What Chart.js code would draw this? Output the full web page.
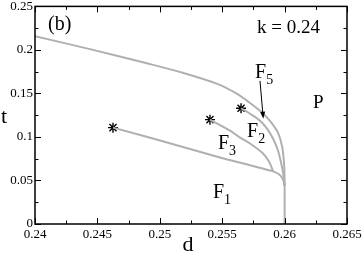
<!DOCTYPE html>
<html>
<head>
<meta charset="utf-8">
<script src="https://cdn.jsdelivr.net/npm/chart.js@4"></script>
<style>
  html, body { margin: 0; padding: 0; background: #fff; }
</style>
</head>
<body>
<canvas id="myChart" width="363" height="259"></canvas>
<script>
// phase boundaries (d, t)
// P / F5 boundary, runs into the vertical at d = 0.26
const outerD = [0.2400, 0.2444, 0.2492, 0.2519, 0.2546, 0.2562, 0.2572, 0.2583, 0.2590, 0.2595, 0.2598, 0.25995, 0.2600, 0.2600];
const outerT = [0.2158, 0.2009, 0.1838, 0.1735, 0.1610, 0.1495, 0.1393, 0.1267, 0.1153, 0.1039, 0.0890, 0.0708, 0.0502, 0.0000];
// F5 / F2 boundary
const f5f2D = [0.25651, 0.25723, 0.25803, 0.25859, 0.25907, 0.25947, 0.25971, 0.25991, 0.2600];
const f5f2T = [0.1330, 0.1267, 0.1187, 0.1096, 0.0982, 0.0845, 0.0708, 0.0559, 0.0445];
// F2 / F3 boundary
const f2f3D = [0.25402, 0.25563, 0.25643, 0.25723, 0.25827, 0.25875, 0.25899, 0.25907];
const f2f3T = [0.1199, 0.1073, 0.0993, 0.0925, 0.0811, 0.0719, 0.0639, 0.0605];
// F3 / F1 boundary
const f3f1D = [0.24625, 0.25002, 0.25482, 0.25723, 0.25907, 0.25955, 0.25987, 0.2600];
const f3f1T = [0.1107, 0.0959, 0.0765, 0.0674, 0.0605, 0.0571, 0.0514, 0.0434];
// end points (stars)
const starD = [0.24625, 0.25402, 0.25651];
const starT = [0.1107, 0.1199, 0.1330];

const xTicks = [0.24, 0.245, 0.25, 0.255, 0.26, 0.265];
const yTicks = [0, 0.05, 0.1, 0.15, 0.2, 0.25];

// text on the plot, placed in data coordinates
const labels = [
  { text: '(b)', d: 0.24104, t: 0.2226, size: 20 },
  { text: 'k = 0.24', d: 0.25779, t: 0.2192, size: 19 },
  { text: 'F', sub: '5', d: 0.25763, t: 0.1678, size: 20 },
  { text: 'F', sub: '2', d: 0.25699, t: 0.0999, size: 20 },
  { text: 'F', sub: '3', d: 0.25466, t: 0.0856, size: 20 },
  { text: 'F', sub: '1', d: 0.25426, t: 0.0297, size: 20 },
  { text: 'P', d: 0.26228, t: 0.1336, size: 19 }
];
const arrowFrom = [0.25803, 0.1644];
const arrowTo = [0.25829, 0.1210];

const FONT = '"Liberation Serif", "DejaVu Serif", serif';
const lineColor = '#b0b0b0';

function pts(xs, ys) {
  return xs.map((x, i) => ({ x: x, y: ys[i] }));
}

function curve(xs, ys) {
  return {
    data: pts(xs, ys),
    showLine: true,
    borderColor: lineColor,
    borderWidth: 2,
    tension: 0.3,
    pointRadius: 0,
    fill: false
  };
}

const framePlugin = {
  id: 'frame',
  afterDraw(chart) {
    const ctx = chart.ctx;
    const a = chart.chartArea;
    const xs = chart.scales.x, ys = chart.scales.y;
    ctx.save();
    ctx.strokeStyle = '#000';
    ctx.lineWidth = 1;
    // ticks inward on all four sides, minor ones half way
    const xStep = 0.0025, yStep = 0.025;
    for (let i = 0; i <= 10; i++) {
      const px = Math.round(xs.getPixelForValue(0.24 + i * xStep)) + 0.5;
      const len = i % 2 === 0 ? 6 : 3.5;
      ctx.beginPath();
      ctx.moveTo(px, a.bottom); ctx.lineTo(px, a.bottom - len);
      ctx.moveTo(px, a.top); ctx.lineTo(px, a.top + len);
      ctx.stroke();
    }
    for (let i = 0; i <= 10; i++) {
      const py = Math.round(ys.getPixelForValue(i * yStep)) + 0.5;
      const len = i % 2 === 0 ? 6 : 3.5;
      ctx.beginPath();
      ctx.moveTo(a.left, py); ctx.lineTo(a.left + len, py);
      ctx.moveTo(a.right, py); ctx.lineTo(a.right - len, py);
      ctx.stroke();
    }
    ctx.lineWidth = 1.5;
    ctx.strokeRect(a.left, a.top, a.right - a.left, a.bottom - a.top);

    // arrow F5
    const x0 = xs.getPixelForValue(arrowFrom[0]), y0 = ys.getPixelForValue(arrowFrom[1]);
    const x1 = xs.getPixelForValue(arrowTo[0]), y1 = ys.getPixelForValue(arrowTo[1]);
    const ang = Math.atan2(y1 - y0, x1 - x0);
    ctx.lineWidth = 1;
    ctx.beginPath();
    ctx.moveTo(x0, y0); ctx.lineTo(x1 - 5 * Math.cos(ang), y1 - 5 * Math.sin(ang));
    ctx.stroke();
    ctx.fillStyle = '#000';
    ctx.beginPath();
    ctx.moveTo(x1, y1);
    ctx.lineTo(x1 - 7 * Math.cos(ang) + 2.5 * Math.sin(ang), y1 - 7 * Math.sin(ang) - 2.5 * Math.cos(ang));
    ctx.lineTo(x1 - 7 * Math.cos(ang) - 2.5 * Math.sin(ang), y1 - 7 * Math.sin(ang) + 2.5 * Math.cos(ang));
    ctx.closePath();
    ctx.fill();

    // labels
    ctx.textBaseline = 'alphabetic';
    ctx.textAlign = 'left';
    labels.forEach(l => {
      const px = xs.getPixelForValue(l.d), py = ys.getPixelForValue(l.t);
      ctx.font = l.size + 'px ' + FONT;
      ctx.fillText(l.text, px, py);
      if (l.sub) {
        const w = ctx.measureText(l.text).width;
        ctx.font = '14px ' + FONT;
        ctx.fillText(l.sub, px + w, py + 6);
      }
    });

    // axis titles
    ctx.font = '22px ' + FONT;
    ctx.textAlign = 'center';
    ctx.fillText('t', a.left - 31, (a.top + a.bottom) / 2 + 8);
    ctx.fillText('d', (a.left + a.right) / 2 - 3, a.bottom + 27);
    ctx.restore();
  }
};

const chartObject = new Chart(document.getElementById('myChart'), {
  type: 'scatter',
  data: {
    datasets: [
      curve(outerD, outerT),
      curve(f5f2D, f5f2T),
      curve(f2f3D, f2f3T),
      curve(f3f1D, f3f1T),
      {
        data: pts(starD, starT),
        pointStyle: 'star',
        pointRadius: 5,
        borderColor: '#000',
        backgroundColor: '#000',
        pointBorderWidth: 1.4,
        showLine: false
      }
    ]
  },
  options: {
    responsive: false,
    animation: false,
    devicePixelRatio: 1,
    layout: { padding: { top: 5, right: 16, left: 0, bottom: 0 } },
    plugins: { legend: { display: false }, tooltip: { enabled: false } },
    scales: {
      x: {
        type: 'linear',
        min: 0.24,
        max: 0.265,
        grid: { display: false, drawTicks: false },
        border: { display: false },
        afterBuildTicks: s => { s.ticks = xTicks.map(v => ({ value: v })); },
        ticks: {
          padding: 3,
          color: '#000',
          maxRotation: 0,
          autoSkip: false,
          font: { family: FONT, size: 13 },
          callback: v => String(+v.toFixed(3))
        },
        afterFit: s => { s.height = 35; s.paddingLeft = 0; s.paddingRight = 0; }
      },
      y: {
        type: 'linear',
        min: 0,
        max: 0.25,
        grid: { display: false, drawTicks: false },
        border: { display: false },
        afterBuildTicks: s => { s.ticks = yTicks.map(v => ({ value: v })); },
        ticks: {
          padding: 2,
          color: '#000',
          autoSkip: false,
          font: { family: FONT, size: 13 },
          callback: v => String(+v.toFixed(2))
        },
        afterFit: s => { s.width = 35; s.paddingTop = 0; s.paddingBottom = 0; }
      }
    }
  },
  plugins: [framePlugin]
});
</script>
</body>
</html>
